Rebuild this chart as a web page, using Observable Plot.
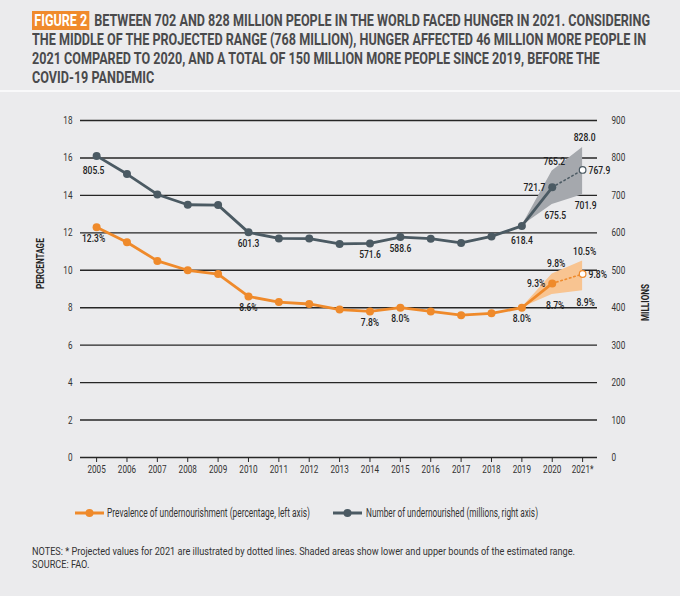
<!DOCTYPE html>
<html><head><meta charset="utf-8">
<script src="https://cdn.jsdelivr.net/npm/d3@7"></script>
<script src="https://cdn.jsdelivr.net/npm/@observablehq/plot@0.6"></script>
<style>
html,body{margin:0;padding:0;background:#ebebed;}
body{width:680px;height:596px;overflow:hidden;position:relative;font-family:Roboto,"Noto Sans",sans-serif;color:#333;}
#titlebox{position:absolute;left:0;top:0;width:680px;height:90px;border-bottom:2px solid #f9f9fa;}
.tl{position:absolute;left:32px;font-weight:bold;font-size:16.5px;line-height:18px;color:#4a4a4c;white-space:nowrap;transform-origin:0 50%;}
.fig{background:#f08a2c;color:#fff;padding:0 3px;margin-right:6px;}
#chart{position:absolute;left:0;top:92px;}
.lgsw{position:absolute;top:506px;}
.lgtx{position:absolute;top:506px;font-size:12.5px;line-height:14px;color:#333;white-space:nowrap;transform-origin:0 50%;}
.nt{position:absolute;left:32px;font-size:11px;line-height:13px;color:#333;white-space:nowrap;transform-origin:0 50%;}
</style>
</head><body>
<div id="titlebox"></div>
<div id="chart"></div>
<div id="legend"></div>
<div id="notes"></div>
<script>
// ---------- data ----------
const years = [2005, 2006, 2007, 2008, 2009, 2010, 2011, 2012, 2013, 2014, 2015, 2016, 2017, 2018, 2019, 2020, 2021];
const prevalence = [12.3, 11.5, 10.5, 10.0, 9.8, 8.6, 8.3, 8.2, 7.9, 7.8, 8.0, 7.8, 7.6, 7.7, 8.0, 9.3, 9.8];
const undernourished = [805.5, 757.0, 702.5, 675.0, 674.0, 601.3, 585.0, 584.6, 570.5, 571.6, 588.6, 584.5, 573.0, 590.4, 618.4, 721.7, 767.9];
const projectedYear = 2021;
const rangeYears = [2019, 2020, 2021];
const prevalenceLow = [8.0, 8.7, 8.9];
const prevalenceHigh = [8.0, 9.8, 10.5];
const undernourishedLow = [618.4, 675.5, 701.9];
const undernourishedHigh = [618.4, 765.2, 828.0];
const percentTicks = [0, 2, 4, 6, 8, 10, 12, 14, 16, 18];
const millionTicks = [0, 100, 200, 300, 400, 500, 600, 700, 800, 900];
const xTickLabels = ["2005","2006","2007","2008","2009","2010","2011","2012","2013","2014","2015","2016","2017","2018","2019","2020","2021*"];
const millionLabelYears = [2005, 2010, 2014, 2015, 2019, 2020, 2020, 2020, 2021, 2021, 2021];
const millionLabelValues = [805.5, 601.3, 571.6, 588.6, 618.4, 721.7, 765.2, 675.5, 828.0, 767.9, 701.9];
const percentLabelYears = [2005, 2010, 2014, 2015, 2019, 2020, 2020, 2020, 2021, 2021, 2021];
const percentLabelValues = [12.3, 8.6, 7.8, 8.0, 8.0, 9.3, 9.8, 8.7, 10.5, 9.8, 8.9];
const titleLines = [
  "BETWEEN 702 AND 828 MILLION PEOPLE IN THE WORLD FACED HUNGER IN 2021. CONSIDERING",
  "THE MIDDLE OF THE PROJECTED RANGE (768 MILLION), HUNGER AFFECTED 46 MILLION MORE PEOPLE IN",
  "2021 COMPARED TO 2020, AND A TOTAL OF 150 MILLION MORE PEOPLE SINCE 2019, BEFORE THE",
  "COVID-19 PANDEMIC"
];
const figureTag = "FIGURE 2";
const legendLabels = ["Prevalence of undernourishment (percentage, left axis)", "Number of undernourished (millions, right axis)"];
const notes = [
  "NOTES: * Projected values for 2021 are illustrated by dotted lines. Shaded areas show lower and upper bounds of the estimated range.",
  "SOURCE: FAO."
];
const leftAxisLabel = "PERCENTAGE";
const rightAxisLabel = "MILLIONS";

// ---------- styles / placement ----------
const RATIO = 50; // millions per percentage point on the dual axis
const ORANGE = "#ef8a2b", SLATE = "#4b5a63", ORANGE_BAND = "#f8c491", SLATE_BAND = "#a5a8ad";
const FONT = `Roboto,"Noto Sans",sans-serif`;
const SVG_CONDENSE = 0.74;
const millionPlace = ["belowFarLeft","below","below","below","belowFar","left","above","belowRight","above","right","belowRight"];
const percentPlace = ["belowLeft","below","below","below","below","left","aboveRight","belowRight","above","right","belowRight"];
const PLACE = {
  below: {dy: 11}, belowFar: {dy: 14}, belowFarLeft: {dx: -3, dy: 14}, belowLeft: {dx: -3, dy: 11},
  above: {dx: 2, dy: -10}, aboveRight: {dx: 4, dy: -11}, belowRight: {dx: 3, dy: 11},
  left: {dx: -7, textAnchor: "end"}, right: {dx: 6, textAnchor: "start"}
};

function condenseTo(el, target) {
  const w = el.getBoundingClientRect().width;
  const f = target / w;
  el.style.transform = `scaleX(${f})`;
  return f;
}

// ---------- title ----------
const tb = document.getElementById("titlebox");
const tls = titleLines.map((t, i) => {
  const d = document.createElement("div");
  d.className = "tl";
  d.style.top = (11.5 + i * 19.2) + "px";
  if (i === 0) { const s = document.createElement("span"); s.className = "fig"; s.textContent = figureTag; d.appendChild(s); }
  d.appendChild(document.createTextNode(t));
  tb.appendChild(d);
  return d;
});
const tf = tls[0].getBoundingClientRect().width;
tls.forEach(d => d.style.transform = `scaleX(${618 / tf})`);

// ---------- tables ----------
const series = years.map((year, i) => ({year, pct: prevalence[i], mil: undernourished[i]}));
const solid = series.filter(d => d.year < projectedYear);
const dotted = series.filter(d => d.year >= projectedYear - 1);
const projected = series.filter(d => d.year === projectedYear);
const ranges = rangeYears.map((year, i) => ({year, pLo: prevalenceLow[i], pHi: prevalenceHigh[i], mLo: undernourishedLow[i], mHi: undernourishedHigh[i]}));
const mLabels = millionLabelYears.map((year, i) => ({year, value: millionLabelValues[i], place: millionPlace[i]}));
const pLabels = percentLabelYears.map((year, i) => ({year, value: percentLabelValues[i], place: percentPlace[i]}));

const labelMarks = [];
for (const [key, opt] of Object.entries(PLACE)) {
  labelMarks.push(Plot.text(mLabels.filter(d => d.place === key), {
    x: "year", y: d => d.value / RATIO, text: d => d.value.toFixed(1),
    fontSize: 11.5, fill: "#222", fontWeight: 500, ...opt
  }));
  labelMarks.push(Plot.text(pLabels.filter(d => d.place === key), {
    x: "year", y: "value", text: d => d.value.toFixed(1) + "%",
    fontSize: 11.5, fill: "#222", fontWeight: 500, ...opt
  }));
}

const chart = Plot.plot({
  width: 680, height: 400,
  marginTop: 28, marginBottom: 35, marginLeft: 80, marginRight: 83,
  style: {background: "transparent", fontFamily: FONT, fontSize: "10px", color: "#333"},
  x: {type: "linear", domain: [2004.47, 2021.49]},
  y: {domain: [0, 18]},
  marks: [
    Plot.ruleY(percentTicks, {stroke: "#262626", strokeWidth: 1.4}),
    Plot.axisX({ticks: years, tickFormat: (d) => xTickLabels[years.indexOf(d)], tickSize: 5, tickPadding: 3, stroke: "#262626", label: null, fontSize: 11}),
    Plot.axisY({ticks: percentTicks, tickSize: 0, tickPadding: 8, label: null, fontSize: 11}),
    Plot.axisY({anchor: "right", ticks: millionTicks.map(m => m / RATIO), tickFormat: d => Math.round(d * RATIO), tickSize: 0, tickPadding: 14, label: null, fontSize: 11}),
    Plot.text([leftAxisLabel], {frameAnchor: "left", dx: -40, rotate: -90, fontWeight: "bold", fontSize: 11, fill: "#222"}),
    Plot.text([rightAxisLabel], {frameAnchor: "right", dx: 48, dy: -5, rotate: -90, fontWeight: "bold", fontSize: 11, fill: "#222"}),
    Plot.areaY(ranges, {x: "year", y1: d => d.mLo / RATIO, y2: d => d.mHi / RATIO, fill: SLATE_BAND}),
    Plot.areaY(ranges, {x: "year", y1: "pLo", y2: "pHi", fill: ORANGE_BAND}),
    Plot.line(solid, {x: "year", y: "pct", stroke: ORANGE, strokeWidth: 2.8}),
    Plot.line(solid, {x: "year", y: d => d.mil / RATIO, stroke: SLATE, strokeWidth: 2.8}),
    Plot.line(dotted, {x: "year", y: "pct", stroke: ORANGE, strokeWidth: 1.6, strokeDasharray: "1.5,3", strokeLinecap: "round"}),
    Plot.line(dotted, {x: "year", y: d => d.mil / RATIO, stroke: SLATE, strokeWidth: 1.6, strokeDasharray: "1.5,3", strokeLinecap: "round"}),
    Plot.dot(solid, {x: "year", y: "pct", r: 4, fill: ORANGE}),
    Plot.dot(solid, {x: "year", y: d => d.mil / RATIO, r: 4, fill: SLATE}),
    Plot.dot(projected, {x: "year", y: "pct", r: 3.3, fill: "white", stroke: ORANGE, strokeWidth: 1.2}),
    Plot.dot(projected, {x: "year", y: d => d.mil / RATIO, r: 3.3, fill: "white", stroke: SLATE, strokeWidth: 1.2}),
    ...labelMarks
  ]
});
document.getElementById("chart").appendChild(chart);
// condense the SVG texts (no condensed font is installed)
chart.querySelectorAll("text").forEach(t => {
  const L = t.getComputedTextLength();
  if (L > 0) { t.setAttribute("textLength", (L * SVG_CONDENSE).toFixed(2)); t.setAttribute("lengthAdjust", "spacingAndGlyphs"); }
});

// ---------- legend ----------
const lg = document.getElementById("legend");
[[ORANGE, 75, 107, 203], [SLATE, 333, 366, 172]].forEach(([c, swx, tx, tw], i) => {
  const s = document.createElement("div");
  s.className = "lgsw"; s.style.left = swx + "px";
  s.innerHTML = `<svg width="29" height="14" style="display:block"><line x1="0" y1="7" x2="29" y2="7" stroke="${c}" stroke-width="3"/><circle cx="14.5" cy="7" r="4" fill="${c}"/></svg>`;
  lg.appendChild(s);
  const d = document.createElement("div");
  d.className = "lgtx"; d.style.left = tx + "px";
  d.textContent = legendLabels[i];
  lg.appendChild(d);
  condenseTo(d, tw);
});

// ---------- notes ----------
const nt = document.getElementById("notes");
const nds = notes.map((t, i) => { const d = document.createElement("div"); d.className = "nt"; d.style.top = (545 + i * 13) + "px"; d.textContent = t; nt.appendChild(d); return d; });
const nf = 543 / nds[0].getBoundingClientRect().width;
nds.forEach(d => d.style.transform = `scaleX(${nf})`);
</script>
</body></html>
